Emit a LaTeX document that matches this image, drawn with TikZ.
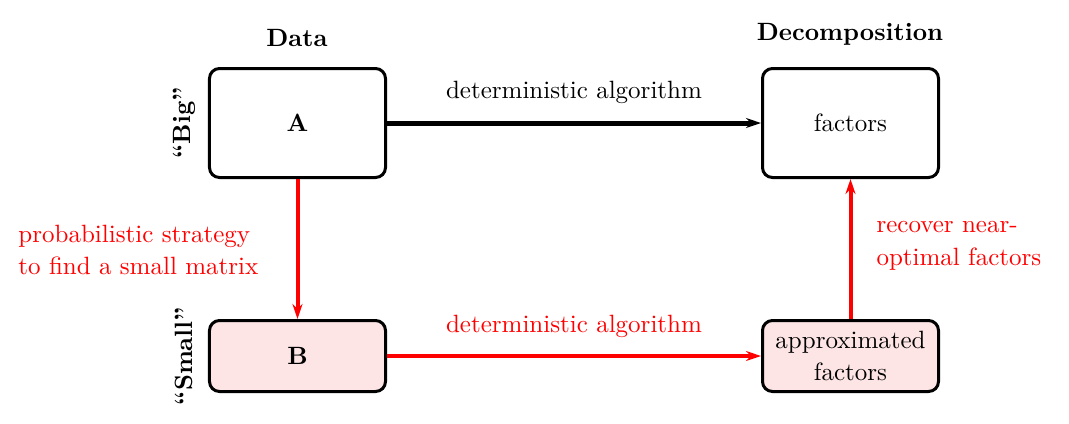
\documentclass[tikz,border=0pt]{standalone}
\usetikzlibrary{arrows.meta}
\definecolor{pinkfill}{RGB}{253,229,229}
\begin{document}
\begin{tikzpicture}[x=0.4pt,y=-0.4pt,
  box/.style={draw=black, line width=1.2pt, rounded corners=4pt, minimum width=70.4pt, inner sep=2pt, align=center},
  bigbox/.style={box, minimum height=43.6pt},
  smallbox/.style={box, minimum height=28.4pt, fill=pinkfill},
  head/.style={font=\bfseries},
  side/.style={font=\bfseries, rotate=90},
  redtxt/.style={text=red, align=left},
  blackarrow/.style={-{Stealth[length=6pt,width=4pt]}, line width=2pt},
  redarrow/.style={-{Stealth[length=6pt,width=4pt]}, line width=1.6pt, draw=red},
]
\useasboundingbox (0,0) rectangle (1069,423);
\node[bigbox] (A) at (297.5,123) {\textbf{A}};
\node[bigbox] (F) at (850.5,123) {factors};
\node[smallbox] (B) at (297.5,356) {\textbf{B}};
\node[smallbox] (AF) at (850.5,356) {approximated\\[0.5pt]factors};
\node[head] (data) at (297,38) {Data};
\node[head] (dec) at (850,34) {Decomposition};
\node[side] (big) at (184,123) {``Big''};
\node[side] (small) at (184,356) {``Small''};
\draw[blackarrow] (A.east) -- (F.west);
\draw[redarrow] (A.south) -- (B.north);
\draw[redarrow] (B.east) -- (AF.west);
\draw[redarrow] (AF.north) -- (F.south);
\node (d1) at (574,92) {deterministic algorithm};
\node[text=red] (d2) at (574,326) {deterministic algorithm};
\node[redtxt, anchor=west, inner sep=0pt] (p) at (18,250) {probabilistic strategy\\[0.5pt]to find a small matrix};
\node[redtxt, anchor=west, inner sep=0pt] (r) at (876,246) {recover near-\\[1pt]optimal factors};
\end{tikzpicture}
\end{document}
